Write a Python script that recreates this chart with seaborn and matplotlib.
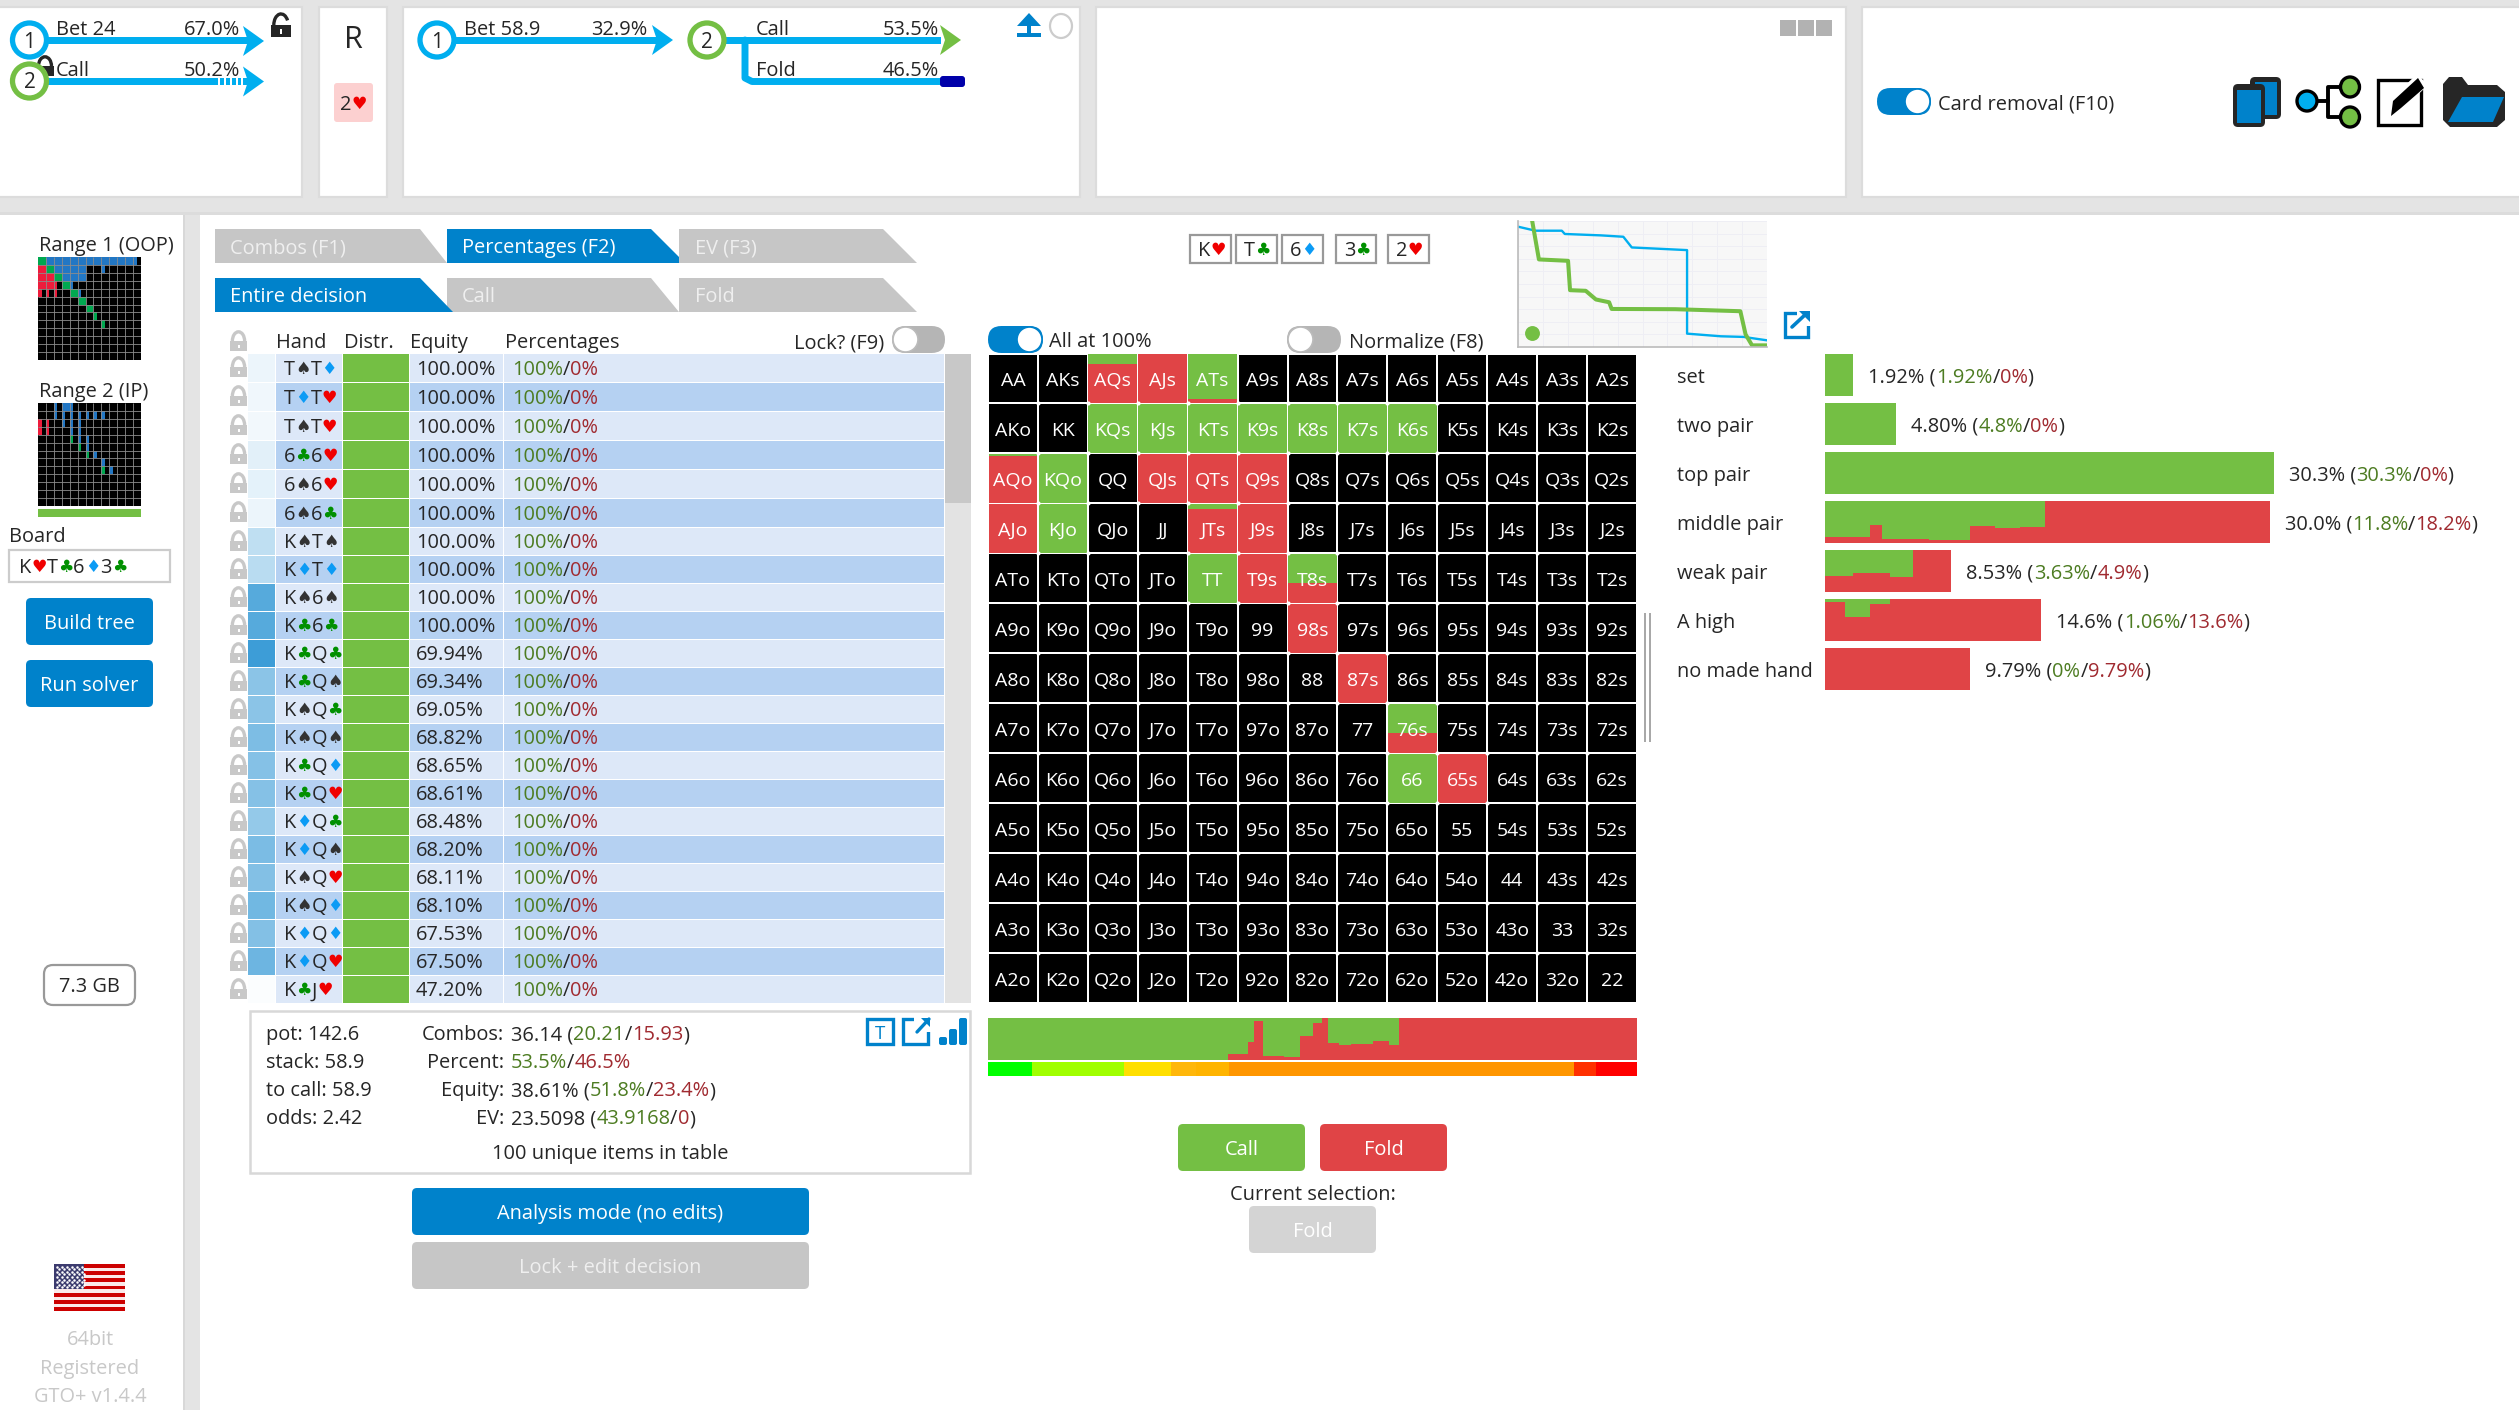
import numpy as np
import seaborn as sns
import matplotlib
matplotlib.use("Agg")
import matplotlib.pyplot as plt
from matplotlib.colors import ListedColormap, LinearSegmentedColormap
from matplotlib.patches import FancyBboxPatch, Polygon, Rectangle, Ellipse, Arc

# ---------- data ----------
ranks = list("AKQJT98765432")
call_hands = ["AQs", "AJs", "ATs", "KQs", "KJs", "KTs", "K9s", "K8s", "K7s", "K6s", "AQo", "KQo", "QJs", "QTs", "Q9s",
              "AJo", "KJo", "JTs", "J9s", "TT", "T9s", "T8s", "98s", "87s", "76s", "66", "65s"]
call_freq = [0.2, 0, 0.93, 1, 1, 1, 1, 1, 1, 1, 0.03, 1, 0, 0, 0,
             0, 1, 0.1, 0, 1, 0, 0.6, 0, 0, 0.6, 1, 0]

table_hands = ["T♠T♦", "T♦T♥", "T♠T♥", "6♣6♥", "6♠6♥", "6♠6♣", "K♠T♠", "K♦T♦", "K♠6♠", "K♣6♣", "K♣Q♣", "K♣Q♠",
               "K♠Q♣", "K♠Q♠", "K♣Q♦", "K♣Q♥", "K♦Q♣", "K♦Q♠", "K♠Q♥", "K♠Q♦", "K♦Q♦", "K♦Q♥", "K♣J♥"]
table_equity = ["100.00", "100.00", "100.00", "100.00", "100.00", "100.00", "100.00", "100.00", "100.00", "100.00",
                "69.94", "69.34", "69.05", "68.82", "68.65", "68.61", "68.48", "68.20", "68.11", "68.10", "67.53",
                "67.50", "47.20"]
table_weight = [0.10, 0.08, 0.07, 0.15, 0.14, 0.10, 0.33, 0.36, 0.87, 0.87, 1.0, 0.60, 0.60, 0.67, 0.63, 0.63, 0.55,
                0.68, 0.64, 0.73, 0.64, 0.75, 0.02]

hand_classes = ["set", "two pair", "top pair", "middle pair", "weak pair", "A high", "no made hand"]
class_totals = [1.92, 4.80, 30.3, 30.0, 8.53, 14.6, 9.79]
class_labels = ["1.92%", "4.80%", "30.3%", "30.0%", "8.53%", "14.6%", "9.79%"]
class_call = ["1.92%", "4.8%", "30.3%", "11.8%", "3.63%", "1.06%", "0%"]
class_fold = ["0%", "0%", "0%", "18.2%", "4.9%", "13.6%", "9.79%"]
middle_edges = [0, 3.07, 3.86, 7.01, 9.78, 11.49, 13.15, 14.82, 30.0]
middle_fold = [0.14, 0.43, 0.095, 0.07, 0.40, 0.36, 0.38, 1.0]
weak_edges = [0, 1.89, 4.38, 5.92, 8.53]
weak_fold = [0.38, 0.45, 0.36, 1.0]
ahigh_edges = [0, 1.36, 3.07, 4.38, 14.6]
ahigh_fold = [0.93, 0.57, 0.89, 1.0]
nomade_edges = [0, 9.79]
nomade_fold = [1.0]

strategy_edges = [0, 37.0, 40.1, 41.0, 42.4, 45.6, 48.1, 50.0, 51.4, 52.4, 54.1, 55.9, 59.3, 61.8, 63.3, 100]
strategy_fold = [0, 0.14, 0.42, 0.93, 0.10, 0.07, 0.57, 0.89, 1.0, 0.41, 0.36, 0.38, 0.46, 0.36, 1.0]
equity_edges = [0, 6.8, 21, 28.2, 32, 37.1, 90.3, 93.7, 100]
equity_colors = ["#00ff00", "#a0ff00", "#ffdf00", "#ffb70a", "#ffb400", "#ff9600", "#ff3000", "#ff0000"]

mini_blue_x = [0, 7, 17.6, 18.8, 33.2, 42.3, 45.7, 67.9, 67.9, 81.5, 90.6, 100]
mini_blue_y = [95.5, 92.3, 92.3, 89.7, 88.6, 87.5, 79, 76.9, 10.6, 8.5, 8, 5.3]
mini_green_x = [5.7, 8.4, 20.1, 20.9, 27.2, 31.3, 36.6, 37.6, 63.2, 89.3, 91.4, 94, 100]
mini_green_y = [100, 69.5, 68.4, 45.1, 44.6, 37.7, 35.5, 30.2, 30, 28.4, 10, 1.3, 1.3]

range1 = ["GBBBBBBBBBBBb", "RGBBBB..b....", "RRGBBB.......", "RRrGb........", "rrr.Gb.......", ".....G.......",
          "......G......", ".......g.....", "........g....", ".............", ".............", ".............",
          "............."]
range2 = ["..bBb........", "..bbbbbbb....", "rr.bbb.......", "rr..bb.......", "....gbb......", ".....gb......",
          "......gb.....", "........b....", "........gb...", ".............", ".............", ".............",
          "............."]

W, H = 2519, 1410
GREEN, RED, BLUE, CYAN = "#74bf44", "#e04446", "#0082cb", "#00aeef"
DARK, TGREEN, TRED = "#262626", "#4d7c22", "#a02a30"
SUIT = {"♠": "#333333", "♦": "#0b9bf5", "♥": "#f00000", "♣": "#009000"}
FS = 14.4

sns.set_theme(style="white")
plt.rcParams["font.family"] = ["Open Sans", "DejaVu Sans"]
fig = plt.figure(figsize=(W / 100, H / 100), dpi=100, facecolor="white")
bg = fig.add_axes([0, 0, 1, 1], zorder=0)
bg.set_xlim(0, W)
bg.set_ylim(H, 0)
bg.axis("off")
renderer = fig.canvas.get_renderer()


def px_axes(x0, y0, x1, y1):
    ax = fig.add_axes([x0 / W, 1 - y1 / H, (x1 - x0) / W, (y1 - y0) / H], zorder=2)
    ax.patch.set_alpha(0)
    return ax


def T(x, y, s, size=FS, color=DARK, ha="left", z=10):
    return bg.text(x, y + size * 100 / 72 * 0.36, s, fontsize=size, color=color, ha=ha, va="baseline", zorder=z)


def adv(s, size):
    a = bg.text(0, 0, s + "|", fontsize=size)
    b = bg.text(0, 0, "|", fontsize=size)
    w = a.get_window_extent(renderer).width - b.get_window_extent(renderer).width
    a.remove()
    b.remove()
    return w


def rich(x, y, parts, size=FS):
    for s, c in parts:
        T(x, y, s, size, c)
        x += adv(s, size)
    return x


def hand_text(x, y, s, size=FS):
    for ch in s:
        if ch in SUIT:
            T(x, y, ch, size * 0.86, SUIT[ch])
            x += adv(ch, size * 0.86)
        else:
            T(x, y, ch, size, DARK)
            x += adv(ch, size)


def rect(x0, y0, x1, y1, fc, ec="none", lw=0, z=2):
    bg.add_patch(Rectangle((x0, y0), x1 - x0, y1 - y0, facecolor=fc, edgecolor=ec, linewidth=lw, zorder=z))


def rrect(x0, y0, x1, y1, fc, r=4, ec="none", lw=0, z=2):
    bg.add_patch(FancyBboxPatch((x0 + r, y0 + r), x1 - x0 - 2 * r, y1 - y0 - 2 * r,
                                boxstyle=f"round,pad={r},rounding_size={r}", facecolor=fc, edgecolor=ec,
                                linewidth=lw, zorder=z))


def poly(pts, fc, z=3):
    bg.add_patch(Polygon(pts, closed=True, facecolor=fc, edgecolor="none", zorder=z))


def button(x0, y0, x1, y1, fc, label, color="white"):
    rrect(x0, y0, x1, y1, fc, r=5)
    T((x0 + x1) / 2, (y0 + y1) / 2, label, color=color, ha="center")


def toggle(x0, y0, x1, y1, on):
    h = y1 - y0
    rrect(x0, y0, x1, y1, BLUE if on else "#b5b5b5", r=h / 2 - 0.01)
    cx = x1 - h / 2 if on else x0 + h / 2
    bg.add_patch(Ellipse((cx, (y0 + y1) / 2), h - 2, h - 2, facecolor="white",
                         edgecolor=BLUE if on else "#bbbbbb", linewidth=1.2, zorder=3))


def lock(x0, y0, w, h, c, opened=False):
    rect(x0, y0 + h * 0.48, x0 + w, y0 + h, c, z=3)
    a = Arc((x0 + w / 2, y0 + h * 0.5), w * 0.72, h * 0.92, theta1=180, theta2=325 if opened else 360,
            edgecolor=c, linewidth=2.4, zorder=3)
    bg.add_patch(a)
    rect(x0 + w / 2 - 1, y0 + h * 0.68, x0 + w / 2 + 1, y0 + h * 0.86, "white", z=4)


def node(cx, cy, c, label):
    bg.add_patch(Ellipse((cx, cy), 34, 34, facecolor="white", edgecolor=c, linewidth=3.8, zorder=5))
    T(cx, cy, label, size=15, ha="center")


def head(x, y, c):
    poly([(x, y - 15), (x + 21, y), (x, y + 15), (x + 5, y)], c, z=4)


# ---------- page background ----------
rect(0, 0, W, 214, "#e4e4e4", z=1)
rect(0, 212, W, 215, "#dcdcdc", z=1)
rect(183, 215, 200, H, "#e4e4e4", z=1)
rect(183, 215, 185, H, "#d8d8d8", z=1)
for x0, x1 in [(-3, 302), (319, 387), (403, 1080), (1096, 1846), (1862, W + 3)]:
    rect(x0, 7, x1, 197, "white", ec="#dcdcdc", lw=1.6, z=1.5)

# ---------- top panels ----------
rect(45, 36.5, 250, 43.5, CYAN, z=3)
head(243, 41, CYAN)
node(29.5, 40, CYAN, "1")
T(56, 28, "Bet 24")
T(240, 28, "67.0%", ha="right")
lock(271, 13, 20, 24, "#262626", opened=True)
rect(45, 77.5, 250, 84.5, CYAN, z=3)
for sx in (218, 224, 230, 236, 241):
    rect(sx, 77.5, sx + 1.6, 84.5, "white", z=4)
head(243, 81.5, CYAN)
node(29.5, 81, GREEN, "2")
T(56, 69, "Call")
T(240, 69, "50.2%", ha="right")
lock(36, 56, 18, 20, "#262626")

T(353, 37, "R", size=22, ha="center")
rrect(334, 83, 373, 122, "#fcd0d0", r=3)
hand_text(340, 103, "2♥")

rect(452, 36.5, 658, 43.5, CYAN, z=3)
head(652, 40, CYAN)
node(437, 40, CYAN, "1")
T(464, 28, "Bet 58.9")
T(647, 28, "32.9%", ha="right")
rect(720, 36.5, 941, 43.5, CYAN, z=3)
head(940, 40, GREEN)
node(707, 40, GREEN, "2")
T(756, 28, "Call")
T(939, 28, "53.5%", ha="right")
bg.plot([745, 745, 752, 940], [40, 78, 81.5, 81.5], color=CYAN, lw=5, zorder=3, solid_joinstyle="round")
rrect(940, 76, 965, 87, "#0000aa", r=3, z=4)
T(756, 69, "Fold")
T(939, 69, "46.5%", ha="right")
poly([(1029, 13), (1041, 26), (1031, 26), (1031, 33), (1041, 33), (1041, 37), (1017, 37), (1017, 33), (1027, 33),
      (1027, 26), (1017, 26)], BLUE)
bg.add_patch(Ellipse((1061, 26), 22, 24, facecolor="white", edgecolor="#cccccc", linewidth=1.6, zorder=3))
for sx in (1780, 1798, 1816):
    rect(sx, 20, sx + 16, 36, "#b2b2b2", z=3)

toggle(1877, 88, 1931, 115, True)
T(1938, 102, "Card removal (F10)")
rrect(2250, 77, 2281, 119, "#262626", r=5, z=3)
rect(2255, 82, 2277, 115, BLUE, z=3)
rrect(2233, 84, 2265, 127, "#262626", r=5, z=4)
rect(2237, 90, 2261, 123, BLUE, z=4)
bg.plot([2317, 2328, 2328, 2340], [101, 101, 87, 87], color="black", lw=2.8, zorder=3)
bg.plot([2328, 2328, 2340], [101, 117, 117], color="black", lw=2.8, zorder=3)
bg.add_patch(Ellipse((2307, 101), 20, 20, facecolor=CYAN, edgecolor="black", linewidth=2.4, zorder=4))
bg.add_patch(Ellipse((2350, 87), 19, 20, facecolor=GREEN, edgecolor="black", linewidth=2.4, zorder=4))
bg.add_patch(Ellipse((2350, 117), 19, 20, facecolor=GREEN, edgecolor="black", linewidth=2.4, zorder=4))
rect(2378, 80, 2421, 125, "white", ec="black", lw=2.4, z=3)
poly([(2388, 119), (2390, 100), (2417, 74), (2428, 85), (2402, 110)], "white", z=4)
poly([(2391, 116), (2393, 101), (2418, 78), (2424, 88), (2401, 108)], "black", z=5)
poly([(2443, 84), (2449, 77), (2462, 77), (2468, 85), (2497, 85), (2505, 92), (2505, 120), (2497, 127), (2450, 127),
      (2443, 120)], "#262626", z=3)
poly([(2462, 97), (2504, 97), (2493, 122), (2448, 122)], BLUE, z=4)

# ---------- left sidebar ----------
T(39, 244, "Range 1 (OOP)")
T(39, 390, "Range 2 (IP)")
range_cmap = ListedColormap(["black", "#2277c4", "#00a850", "#ee1c3c"])
code = {".": 0, "B": 1, "G": 2, "R": 3}
partial = {"b": "#2277c4", "g": "#00a850", "r": "#ee1c3c"}
for rows, box in ((range1, (38, 257, 141, 360)), (range2, (38, 403, 141, 506))):
    ax = px_axes(*box)
    mat = np.array([[code.get(ch, 0) for ch in row] for row in rows])
    sns.heatmap(mat, cmap=range_cmap, vmin=0, vmax=3, cbar=False, linewidths=0, xticklabels=False,
                yticklabels=False, ax=ax)
    for r, row in enumerate(rows):
        for c, ch in enumerate(row):
            if ch in partial:
                ax.bar(c, 1, width=0.45, bottom=r, align="edge", color=partial[ch], linewidth=0)
    ax.hlines(np.arange(1, 13), 0, 13, color="#8c8c8c", lw=0.6, zorder=4)
    ax.vlines(np.arange(1, 13), 0, 13, color="#8c8c8c", lw=0.6, zorder=4)
rect(38, 509, 141, 517, GREEN)
T(9, 535, "Board")
rect(9, 550, 170, 582, "white", ec="#cccccc", lw=1.6)
hand_text(19, 566, "K♥T♣6♦3♣")
button(26, 598, 153, 645, BLUE, "Build tree")
button(26, 660, 153, 707, BLUE, "Run solver")
rrect(44, 965, 135, 1005, "white", r=9, ec="#999999", lw=1.6)
T(89.5, 985, "7.3 GB", ha="center")
for i in range(13):
    rect(54, 1264 + i * 47 / 13, 125, 1264 + (i + 1) * 47 / 13, "#cc0000" if i % 2 == 0 else "#fbe9e9", z=3)
rect(54, 1264, 84, 1289, "#3c3b6e", z=4)
for sy in range(9):
    for sx in range(6):
        bg.plot(57 + sx * 5 + (sy % 2) * 2, 1266.5 + sy * 2.6, ".", color="white", ms=1.6, zorder=5)
for y, s in zip((1338, 1367, 1395), ("64bit", "Registered", "GTO+ v1.4.4")):
    T(90, y, s, color="#c8c8c8", ha="center")

# ---------- tabs ----------
poly([(215, 229), (420, 229), (447, 263), (215, 263)], "#c6c6c6")
poly([(447, 229), (651, 229), (685, 263), (447, 263)], BLUE)
poly([(679, 229), (883, 229), (917, 263), (679, 263)], "#c6c6c6")
poly([(447, 278), (651, 278), (679, 312), (447, 312)], "#c6c6c6")
poly([(679, 278), (883, 278), (917, 312), (679, 312)], "#c6c6c6")
poly([(215, 278), (420, 278), (453, 312), (215, 312)], BLUE)
for x, y, s, c in ((230, 246, "Combos (F1)", "#efefef"), (462, 246, "Percentages (F2)", "white"),
                   (695, 246, "EV (F3)", "#efefef"), (230, 295, "Entire decision", "white"),
                   (462, 295, "Call", "#efefef"), (695, 295, "Fold", "#efefef")):
    T(x, y, s, color=c)

# ---------- table ----------
lock(230, 331, 17, 20, "#c8c8c8")
T(276, 341, "Hand")
T(344, 341, "Distr.")
T(410, 341, "Equity")
T(505, 341, "Percentages")
T(884, 341, "Lock? (F9)", ha="right")
toggle(892, 326, 945, 353, False)
tops = [354 + 29 * i if i <= 6 else 528 + 28 * (i - 6) for i in range(24)]
tops[23] = 1004
weight_cmap = LinearSegmentedColormap.from_list("w", ["#ffffff", "#3d9dd7"])
for i, (hand, eq, wt) in enumerate(zip(table_hands, table_equity, table_weight)):
    y0, y1 = tops[i], tops[i + 1] - 1.5
    yc = (y0 + y1) / 2
    band = "#dde8f8" if i % 2 == 0 else "#b5d1f2"
    lock(230, y0 + 3, 17, 20, "#c8c8c8")
    rect(248, y0, 275, y1, weight_cmap(wt))
    rect(276, y0, 342, y1, band)
    rect(343, y0, 409, y1, GREEN)
    rect(410, y0, 503, y1, band)
    rect(504, y0, 944, y1, band)
    hand_text(284, yc, hand)
    T(416, yc, eq + "%")
    rich(512, yc, [("100%", TGREEN), ("/", DARK), ("0%", TRED)])
rect(945, 354, 971, 1003, "#e3e3e3")
rect(945, 354, 971, 503, "#c8c8c8")

# ---------- info box ----------
rect(250, 1011, 970, 1173, "white", ec="#d8d8d8", lw=1.8)
for y, s in zip((1033, 1061, 1089, 1117), ("pot: 142.6", "stack: 58.9", "to call: 58.9", "odds: 2.42")):
    T(266, y, s)
info = [("Combos:", [("36.14 (", DARK), ("20.21", TGREEN), ("/", DARK), ("15.93", TRED), (")", DARK)]),
        ("Percent:", [("53.5%", TGREEN), ("/", DARK), ("46.5%", TRED)]),
        ("Equity:", [("38.61% (", DARK), ("51.8%", TGREEN), ("/", DARK), ("23.4%", TRED), (")", DARK)]),
        ("EV:", [("23.5098 (", DARK), ("43.9168", TGREEN), ("/", DARK), ("0", TRED), (")", DARK)])]
for y, (label, parts) in zip((1033, 1061, 1089, 1117), info):
    T(504, y, label, ha="right")
    rich(511, y, parts)
T(610, 1152, "100 unique items in table", ha="center")
rect(867, 1019, 893, 1044, "white", ec=BLUE, lw=2.4, z=3)
T(880, 1032, "T", size=13.5, color=BLUE, ha="center")
rect(903, 1019, 928, 1044, "white", ec=BLUE, lw=2.4, z=3)
rect(914, 1015, 932, 1032, "white", z=3)
bg.plot([917, 929], [1032, 1019], color=BLUE, lw=2.4, zorder=4)
poly([(921, 1018), (930, 1018), (930, 1027)], BLUE, z=4)
for sx, top in ((939, 1037), (949, 1029), (959, 1018)):
    rrect(sx, top, sx + 8, 1045, BLUE, r=2, z=3)
button(412, 1188, 809, 1235, BLUE, "Analysis mode (no edits)")
button(412, 1242, 809, 1289, "#c6c6c6", "Lock + edit decision", color="#efefef")

# ---------- board strip ----------
for (x0, x1), s in zip(((1189, 1232), (1235, 1278), (1281, 1324), (1335, 1377), (1387, 1430)),
                       ("K♥", "T♣", "6♦", "3♣", "2♥")):
    rect(x0 + 1, 235, x1 - 1, 263, "white", ec="#999999", lw=1.6, z=3)
    hand_text(x0 + 9, 249, s)
toggle(988, 326, 1043, 353, True)
T(1049, 340, "All at 100%")
toggle(1287, 326, 1341, 353, False)
T(1349, 340, "Normalize (F8)")

# ---------- 13x13 hand grid ----------
labels = np.empty((13, 13), dtype=object)
for r in range(13):
    for c in range(13):
        labels[r, c] = (ranks[r] * 2 if r == c else
                        ranks[r] + ranks[c] + "s" if c > r else ranks[c] + ranks[r] + "o")
ax = px_axes(988, 353.5, 1637, 1003)
sns.heatmap(np.zeros((13, 13)), cmap=ListedColormap(["black"]), vmin=0, vmax=1, cbar=False, linewidths=1.4,
            linecolor="white", annot=labels, fmt="", annot_kws={"color": "white", "fontsize": 14},
            xticklabels=False, yticklabels=False, ax=ax)
for txt in ax.texts:
    px, py = txt.get_position()
    txt.set_position((px, py + 0.05))
for hand, freq in zip(call_hands, call_freq):
    r, c = [int(v[0]) for v in np.where(labels == hand)]
    ax.bar(c + 0.5, 0.975, width=0.975, bottom=r + 0.0125, color=RED, linewidth=0)
    ax.bar(c + 0.5, 0.975 * freq, width=0.975, bottom=r + 0.0125, color=GREEN, linewidth=0)
gx, gy = np.meshgrid(np.arange(1, 13), np.arange(1, 13))
ax.scatter(gx.ravel(), gy.ravel(), s=9, color="white", linewidths=0, zorder=2.5)
rect(1644, 613, 1646, 742, "#a8a8a8")
rect(1649, 613, 1651, 742, "#a8a8a8")

# ---------- strategy strip ----------
ax = px_axes(988, 1018, 1637, 1060)
ax.bar(0, 1, width=100, align="edge", color=GREEN, linewidth=0)
ax.bar(strategy_edges[:-1], strategy_fold, width=np.diff(strategy_edges), align="edge", color=RED, linewidth=0)
ax.set_xlim(0, 100)
ax.set_ylim(0, 1)
ax.axis("off")
ax = px_axes(988, 1062, 1637, 1076)
ax.bar(equity_edges[:-1], 1, width=np.diff(equity_edges), align="edge", color=equity_colors, linewidth=0)
ax.set_xlim(0, 100)
ax.set_ylim(0, 1)
ax.axis("off")
button(1178, 1124, 1305, 1171, GREEN, "Call")
button(1320, 1124, 1447, 1171, RED, "Fold")
T(1313, 1193, "Current selection:", ha="center")
button(1249, 1206, 1376, 1253, "#d4d4d4", "Fold")

# ---------- mini line chart ----------
ax = px_axes(1518, 221, 1767, 347)
ax.patch.set_alpha(1)
ax.set_facecolor("#f7f7f7")
sns.lineplot(x=mini_blue_x, y=mini_blue_y, sort=False, estimator=None, color=CYAN, lw=1.7, ax=ax)
sns.lineplot(x=mini_green_x, y=mini_green_y, sort=False, estimator=None, color=GREEN, lw=2.9, ax=ax)
ax.scatter([5.7], [11], s=115, color=GREEN, linewidths=0, zorder=5)
ax.set_xlim(0, 100)
ax.set_ylim(0, 100)
ax.set_xticks(np.arange(0, 101, 10))
ax.set_yticks(np.arange(0, 101, 10))
ax.tick_params(length=0, labelbottom=False, labelleft=False)
ax.grid(True, color="#eeeef4", lw=0.7)
ax.set_axisbelow(True)
for side in ("top", "right"):
    ax.spines[side].set_visible(False)
for side in ("left", "bottom"):
    ax.spines[side].set_color("#bbbbbb")
    ax.spines[side].set_linewidth(1.2)
rect(1785, 313, 1808, 337, "white", ec=BLUE, lw=2.4, z=3)
rect(1797, 308, 1812, 326, "white", z=3)
bg.plot([1792, 1807], [327, 313], color=BLUE, lw=2.6, zorder=4)
poly([(1799, 311), (1810, 311), (1810, 322)], BLUE, z=4)

# ---------- hand-class bars ----------
ax = px_axes(1825, 350.5, 2274, 693.5)
sns.barplot(y=hand_classes, x=class_totals, orient="h", color=GREEN, saturation=1, width=42 / 49, linewidth=0, ax=ax)
segments = {3: (middle_edges, middle_fold), 4: (weak_edges, weak_fold), 5: (ahigh_edges, ahigh_fold),
            6: (nomade_edges, nomade_fold)}
half = 21 / 49
for i, (edges, fold) in segments.items():
    ax.bar(edges[:-1], -2 * half * np.array(fold), width=np.diff(edges), bottom=i + half, align="edge", color=RED,
           linewidth=0)
ax.set_xlim(0, 30.3)
ax.set_ylim(6.5, -0.5)
ax.axis("off")
for i, name in enumerate(hand_classes):
    yc = 375.7 + 49 * i
    T(1677, yc, name)
    rich(1825 + class_totals[i] * 449 / 30.3 + 15, yc,
         [(class_labels[i] + " (", DARK), (class_call[i], TGREEN), ("/", DARK), (class_fold[i], TRED), (")", DARK)])

fig.savefig("out.png", dpi=100)
